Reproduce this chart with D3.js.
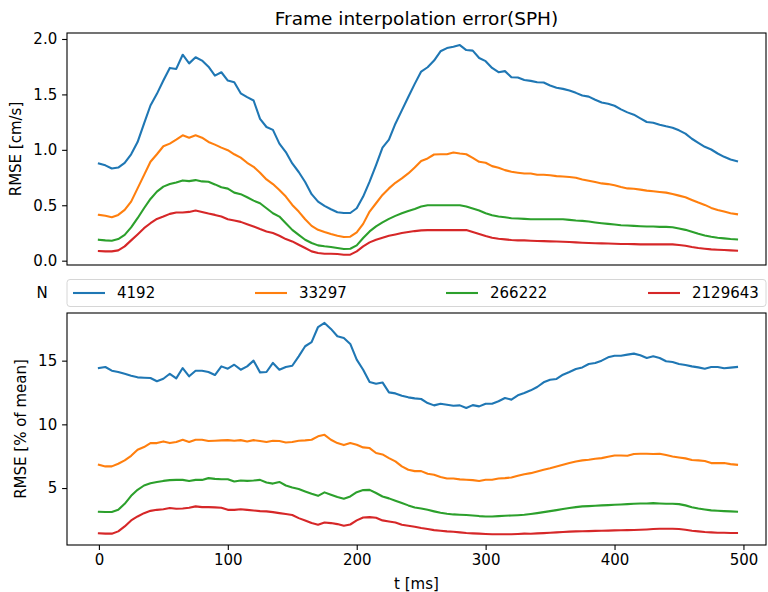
<!DOCTYPE html>
<html>
<head>
<meta charset="utf-8">
<script src="https://cdn.jsdelivr.net/npm/d3@7"></script>
<style>
  body { margin: 0; background: #fff; }
  text { font-family: "DejaVu Sans", sans-serif; fill: #000; }
  .domain { display: none; }
</style>
</head>
<body>
<div id="container"></div>
<script>
/* CONSTANTS AND GLOBALS */
const width = 768,
  height = 592,
  plotLeft = 67,
  plotRight = 766;

// sample times (ms)
const tMs = d3.range(0, 500, 5);

const seriesNames = ["4192", "33297", "266222", "2129643"];
const colors = ["#1f77b4", "#ff7f0e", "#2ca02c", "#d62728"];

// top panel: RMSE [cm/s]
const top4192 = [
  0.877, 0.86, 0.832, 0.84, 0.883, 0.96, 1.07, 1.236, 1.40, 1.505,
  1.625, 1.739, 1.73, 1.858, 1.78, 1.835, 1.805, 1.75, 1.67, 1.70,
  1.625, 1.61, 1.51, 1.475, 1.445, 1.28, 1.206, 1.18, 1.056, 0.98,
  0.877, 0.80, 0.71, 0.60, 0.533, 0.494, 0.464, 0.437, 0.43, 0.43,
  0.473, 0.578, 0.713, 0.862, 1.02, 1.092, 1.236, 1.356, 1.476, 1.595,
  1.706, 1.745, 1.805, 1.889, 1.918, 1.93, 1.945, 1.90, 1.895, 1.828,
  1.80, 1.739, 1.70, 1.71, 1.655, 1.652, 1.63, 1.622, 1.61, 1.607,
  1.58, 1.56, 1.55, 1.535, 1.514, 1.49, 1.48, 1.452, 1.427, 1.416,
  1.398, 1.365, 1.338, 1.317, 1.284, 1.251, 1.245, 1.227, 1.212, 1.20,
  1.176, 1.146, 1.10, 1.063, 1.027, 1.003, 0.967, 0.937, 0.913, 0.898
];
const top33297 = [
  0.413, 0.405, 0.392, 0.413, 0.458, 0.533, 0.652, 0.772, 0.892, 0.96,
  1.032, 1.056, 1.092, 1.131, 1.11, 1.131, 1.11, 1.071, 1.047, 1.02,
  0.997, 0.96, 0.93, 0.883, 0.847, 0.794, 0.733, 0.691, 0.637, 0.578,
  0.503, 0.443, 0.374, 0.314, 0.278, 0.258, 0.24, 0.225, 0.213, 0.216,
  0.255, 0.332, 0.443, 0.518, 0.593, 0.652, 0.703, 0.742, 0.787, 0.841,
  0.90, 0.922, 0.958, 0.96, 0.96, 0.976, 0.967, 0.96, 0.928, 0.892,
  0.883, 0.853, 0.838, 0.817, 0.802, 0.794, 0.787, 0.787, 0.775, 0.775,
  0.77, 0.763, 0.76, 0.755, 0.748, 0.733, 0.721, 0.709, 0.697, 0.691,
  0.68, 0.664, 0.652, 0.649, 0.641, 0.632, 0.626, 0.62, 0.614, 0.602,
  0.587, 0.572, 0.548, 0.524, 0.503, 0.476, 0.458, 0.443, 0.428, 0.419
];
const top266222 = [
  0.189, 0.183, 0.18, 0.195, 0.233, 0.30, 0.383, 0.473, 0.557, 0.623,
  0.668, 0.691, 0.706, 0.724, 0.718, 0.727, 0.715, 0.712, 0.688, 0.662,
  0.65, 0.614, 0.60, 0.572, 0.542, 0.518, 0.473, 0.428, 0.398, 0.338,
  0.278, 0.233, 0.189, 0.159, 0.138, 0.13, 0.124, 0.114, 0.105, 0.108,
  0.138, 0.204, 0.264, 0.309, 0.345, 0.377, 0.404, 0.428, 0.449, 0.467,
  0.488, 0.50, 0.50, 0.50, 0.50, 0.50, 0.50, 0.488, 0.47, 0.452,
  0.428, 0.41, 0.398, 0.392, 0.383, 0.38, 0.377, 0.374, 0.374, 0.374,
  0.374, 0.374, 0.374, 0.368, 0.362, 0.359, 0.353, 0.345, 0.338, 0.332,
  0.326, 0.32, 0.317, 0.314, 0.311, 0.308, 0.308, 0.305, 0.305, 0.302,
  0.29, 0.278, 0.26, 0.242, 0.228, 0.216, 0.207, 0.201, 0.195, 0.192
];
const top2129643 = [
  0.087, 0.084, 0.084, 0.093, 0.129, 0.183, 0.237, 0.293, 0.338, 0.377,
  0.398, 0.422, 0.434, 0.434, 0.44, 0.452, 0.44, 0.425, 0.413, 0.398,
  0.374, 0.362, 0.35, 0.329, 0.309, 0.285, 0.264, 0.249, 0.225, 0.195,
  0.174, 0.144, 0.114, 0.084, 0.069, 0.063, 0.063, 0.06, 0.054, 0.054,
  0.084, 0.129, 0.165, 0.189, 0.207, 0.225, 0.237, 0.249, 0.258, 0.267,
  0.273, 0.276, 0.276, 0.276, 0.276, 0.276, 0.276, 0.276, 0.258, 0.24,
  0.222, 0.207, 0.198, 0.192, 0.186, 0.183, 0.183, 0.18, 0.177, 0.176,
  0.174, 0.173, 0.171, 0.168, 0.165, 0.162, 0.159, 0.157, 0.156, 0.155,
  0.153, 0.151, 0.15, 0.149, 0.147, 0.147, 0.147, 0.147, 0.147, 0.147,
  0.141, 0.135, 0.123, 0.114, 0.108, 0.102, 0.099, 0.097, 0.093, 0.09
];

// bottom panel: RMSE [% of mean]
const bot4192 = [
  14.42, 14.5, 14.21, 14.11, 13.97, 13.82, 13.69, 13.66, 13.64, 13.38,
  13.58, 13.97, 13.61, 14.42, 13.77, 14.21, 14.21, 14.11, 13.87, 14.55,
  14.37, 14.68, 14.29, 14.55, 15.0, 14.08, 14.11, 14.82, 14.29, 14.5,
  14.6, 15.34, 16.13, 16.45, 17.64, 17.96, 17.49, 16.91, 16.78, 16.31,
  15.08, 14.29, 13.32, 13.19, 13.29, 12.51, 12.43, 12.25, 12.12, 12.04,
  11.99, 11.67, 11.49, 11.62, 11.54, 11.46, 11.49, 11.28, 11.51, 11.41,
  11.62, 11.62, 11.81, 12.07, 11.94, 12.28, 12.46, 12.67, 12.93, 13.3,
  13.5, 13.56, 13.9, 14.11, 14.34, 14.47, 14.74, 14.82, 15.0, 15.26,
  15.39, 15.39, 15.47, 15.55, 15.42, 15.21, 15.34, 15.21, 14.95, 14.9,
  14.74, 14.66, 14.55, 14.47, 14.37, 14.5, 14.5, 14.4, 14.45, 14.5
];
const bot33297 = [
  6.83, 6.70, 6.70, 6.91, 7.17, 7.53, 8.0, 8.22, 8.53, 8.53,
  8.66, 8.53, 8.61, 8.79, 8.61, 8.79, 8.79, 8.69, 8.71, 8.74,
  8.76, 8.71, 8.76, 8.66, 8.76, 8.69, 8.61, 8.71, 8.69, 8.58,
  8.61, 8.71, 8.74, 8.79, 9.06, 9.18, 8.79, 8.53, 8.37, 8.53,
  8.4, 8.19, 8.14, 7.75, 7.64, 7.35, 7.09, 6.70, 6.44, 6.33,
  6.33, 6.12, 6.04, 5.86, 5.75, 5.75, 5.68, 5.65, 5.62, 5.55,
  5.65, 5.65, 5.75, 5.78, 5.83, 5.96, 6.09, 6.17, 6.3, 6.44,
  6.56, 6.70, 6.83, 6.96, 7.09, 7.17, 7.22, 7.30, 7.35, 7.46,
  7.56, 7.56, 7.53, 7.67, 7.69, 7.69, 7.67, 7.69, 7.59, 7.48,
  7.4, 7.33, 7.2, 7.17, 7.12, 6.96, 6.96, 6.96, 6.88, 6.83
];
const bot266222 = [
  3.14, 3.12, 3.12, 3.29, 3.76, 4.39, 4.86, 5.2, 5.38, 5.48,
  5.56, 5.62, 5.64, 5.64, 5.56, 5.64, 5.64, 5.78, 5.72, 5.69,
  5.69, 5.51, 5.59, 5.56, 5.59, 5.64, 5.43, 5.35, 5.48, 5.2,
  5.05, 4.92, 4.73, 4.55, 4.39, 4.66, 4.47, 4.29, 4.16, 4.34,
  4.68, 4.84, 4.86, 4.61, 4.34, 4.19, 4.0, 3.82, 3.64, 3.48,
  3.40, 3.29, 3.17, 3.06, 2.98, 2.93, 2.90, 2.88, 2.85, 2.80,
  2.77, 2.77, 2.80, 2.82, 2.85, 2.87, 2.90, 2.96, 3.03, 3.11,
  3.19, 3.27, 3.35, 3.43, 3.5, 3.56, 3.58, 3.61, 3.64, 3.66,
  3.69, 3.71, 3.74, 3.77, 3.79, 3.79, 3.82, 3.79, 3.77, 3.77,
  3.74, 3.64, 3.5, 3.40, 3.32, 3.25, 3.22, 3.19, 3.17, 3.14
];
const bot2129643 = [
  1.45, 1.42, 1.42, 1.6, 1.99, 2.46, 2.77, 3.03, 3.21, 3.29,
  3.34, 3.43, 3.37, 3.40, 3.45, 3.56, 3.5, 3.5, 3.48, 3.45,
  3.29, 3.29, 3.34, 3.29, 3.24, 3.19, 3.17, 3.11, 3.03, 2.96,
  2.88, 2.64, 2.46, 2.25, 2.12, 2.3, 2.25, 2.17, 2.04, 2.14,
  2.46, 2.69, 2.72, 2.67, 2.46, 2.38, 2.30, 2.12, 2.04, 1.96,
  1.86, 1.78, 1.70, 1.65, 1.6, 1.57, 1.52, 1.47, 1.44, 1.42,
  1.39, 1.37, 1.37, 1.37, 1.37, 1.39, 1.42, 1.41, 1.44, 1.46,
  1.49, 1.52, 1.55, 1.58, 1.6, 1.61, 1.62, 1.64, 1.65, 1.66,
  1.68, 1.69, 1.70, 1.71, 1.73, 1.75, 1.78, 1.80, 1.81, 1.81,
  1.78, 1.73, 1.65, 1.6, 1.55, 1.52, 1.49, 1.49, 1.47, 1.47
];

const topTicks = [0.0, 0.5, 1.0, 1.5, 2.0];
const botTicks = [5, 10, 15];
const xTicks = [0, 100, 200, 300, 400, 500];

const topSeries = [top4192, top33297, top266222, top2129643];
const botSeries = [bot4192, bot33297, bot266222, bot2129643];

/* SVG */
const svg = d3.select("#container")
  .append("svg")
  .attr("width", width)
  .attr("height", height);

svg.append("rect").attr("width", width).attr("height", height).attr("fill", "#fff");

/* SCALES */
const xScale = d3.scaleLinear()
  .domain([-24.75, 517.5])
  .range([plotLeft, plotRight]);

const yTop = d3.scaleLinear()
  .domain([-0.039, 2.054])
  .range([265, 33]);

const yBot = d3.scaleLinear()
  .domain([0.53, 18.74])
  .range([545, 313]);

const tickLen = 4.9, tickPad = 4.9, fs = 15;

function drawPanel(yScale, series, ticks, fmt, yLabel, labelX) {
  const [y1, y0] = yScale.range();

  const clipId = "clip" + y0;
  svg.append("clipPath").attr("id", clipId)
    .append("rect")
    .attr("x", plotLeft).attr("y", y0)
    .attr("width", plotRight - plotLeft).attr("height", y1 - y0);

  // lines
  const lineGen = d3.line()
    .x((d, i) => xScale(tMs[i]))
    .y(d => yScale(d));

  svg.append("g")
    .attr("clip-path", `url(#${clipId})`)
    .selectAll("path")
    .data(series)
    .join("path")
    .attr("d", d => lineGen(d))
    .attr("fill", "none")
    .attr("stroke", (d, i) => colors[i])
    .attr("stroke-width", 2.1)
    .attr("stroke-linejoin", "round")
    .attr("stroke-linecap", "square");

  // y axis
  const yAxis = d3.axisLeft(yScale)
    .tickValues(ticks)
    .tickFormat(fmt)
    .tickSize(tickLen)
    .tickPadding(tickPad);

  const g = svg.append("g")
    .attr("transform", `translate(${plotLeft}, 0)`)
    .call(yAxis);
  g.selectAll("text").style("font-size", fs + "px").style("font-family", "DejaVu Sans");
  g.selectAll("line").attr("stroke", "#000").attr("stroke-width", 1.1);

  svg.append("text")
    .attr("transform", `translate(${labelX}, ${(y0 + y1) / 2}) rotate(-90)`)
    .attr("text-anchor", "middle")
    .attr("dominant-baseline", "central")
    .style("font-size", fs + "px")
    .text(yLabel);

  // frame
  svg.append("rect")
    .attr("x", plotLeft).attr("y", y0)
    .attr("width", plotRight - plotLeft).attr("height", y1 - y0)
    .attr("fill", "none")
    .attr("stroke", "#000")
    .attr("stroke-width", 1.1);
}

drawPanel(yTop, topSeries, topTicks, d3.format(".1f"), "RMSE [cm/s]", 16);
drawPanel(yBot, botSeries, botTicks, d3.format("d"), "RMSE [% of mean]", 21);

// x axis (bottom panel only)
const xAxis = d3.axisBottom(xScale)
  .tickValues(xTicks)
  .tickSize(tickLen)
  .tickPadding(tickPad);

const xAxisGroup = svg.append("g")
  .attr("transform", `translate(0, 545)`)
  .call(xAxis);
xAxisGroup.selectAll("text").style("font-size", fs + "px").style("font-family", "DejaVu Sans");
xAxisGroup.selectAll("line").attr("stroke", "#000").attr("stroke-width", 1.1);

svg.append("text")
  .attr("x", (plotLeft + plotRight) / 2)
  .attr("y", 589)
  .attr("text-anchor", "middle")
  .style("font-size", fs + "px")
  .text("t [ms]");

// title
svg.append("text")
  .attr("x", (plotLeft + plotRight) / 2)
  .attr("y", 25)
  .attr("text-anchor", "middle")
  .style("font-size", "18.5px")
  .text("Frame interpolation error(SPH)");

// legend
svg.append("text")
  .attr("x", 42)
  .attr("y", 293)
  .attr("text-anchor", "middle")
  .attr("dominant-baseline", "central")
  .style("font-size", fs + "px")
  .text("N");

svg.append("rect")
  .attr("x", plotLeft).attr("y", 279.5)
  .attr("width", plotRight - plotLeft).attr("height", 27)
  .attr("rx", 3)
  .attr("fill", "#fff")
  .attr("stroke", "#d6d6d6")
  .attr("stroke-width", 1);

const legendX = [73, 255, 446, 648];
const legend = svg.append("g")
  .selectAll("g")
  .data(seriesNames)
  .join("g")
  .attr("transform", (d, i) => `translate(${legendX[i]}, 293)`);

legend.append("line")
  .attr("x1", 0).attr("x2", 32)
  .attr("stroke", (d, i) => colors[i])
  .attr("stroke-width", 2.1);

legend.append("text")
  .attr("x", 44)
  .attr("dominant-baseline", "central")
  .style("font-size", fs + "px")
  .text(d => d);
</script>
</body>
</html>
